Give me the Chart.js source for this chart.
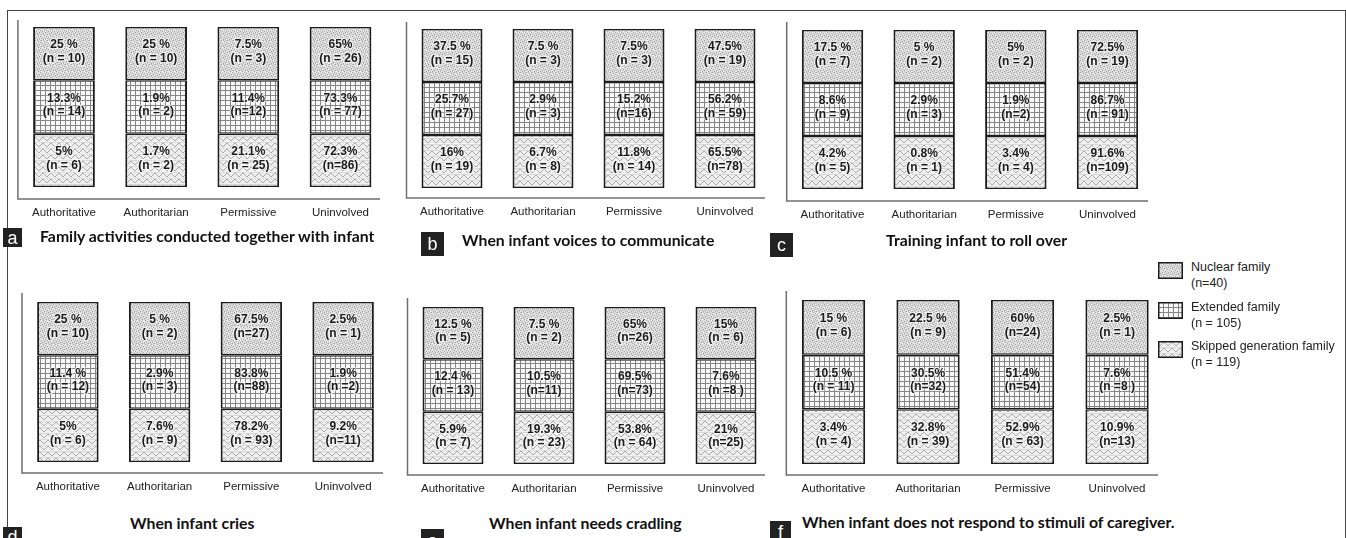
<!DOCTYPE html>
<html lang="en">
<head>
<meta charset="UTF-8">
<title>Parenting style by family type</title>
<script src="https://cdn.jsdelivr.net/npm/chart.js"></script>
<style>
  html, body { margin: 0; padding: 0; background: #fff; overflow: hidden; }
  #fig { position: relative; width: 1346px; height: 538px; overflow: hidden; font-family: Arial, "Liberation Sans", sans-serif; }
  #frame { position: absolute; left: 7px; top: 10px; width: 1337px; height: 600px; border: 1.5px solid #444; border-bottom: none; }
  canvas.panel { position: absolute; }
  .letter { position: absolute; background: #222; color: #fff; font-size: 18px; line-height: 1; display: flex; align-items: center; justify-content: center; }
  .title { position: absolute; font-family: Lato, "Open Sans", sans-serif; font-weight: 700; font-size: 15.8px; color: #111; white-space: nowrap; line-height: 1; }
  .leg { position: absolute; left: 1158px; font-size: 12.5px; color: #222; line-height: 15.5px; }
  .leg canvas { position: absolute; left: 0; top: 0; }
  .leg div { position: absolute; left: 33px; top: -2px; white-space: nowrap; }
</style>
</head>
<body>
<div id="fig">
  <div id="frame"></div>
  <canvas class="panel" id="chartA"></canvas>
  <canvas class="panel" id="chartB"></canvas>
  <canvas class="panel" id="chartC"></canvas>
  <canvas class="panel" id="chartD"></canvas>
  <canvas class="panel" id="chartE"></canvas>
  <canvas class="panel" id="chartF"></canvas>
</div>
<script>
// ---- data ----
const categories = ['Authoritative', 'Authoritarian', 'Permissive', 'Uninvolved'];
const familyTypes = ['Nuclear family', 'Extended family', 'Skipped generation family'];
const familyTotals = ['(n=40)', '(n = 105)', '(n = 119)'];
// every block in the figure is drawn with the same height
const blockHeight = [1, 1, 1, 1];

const panelLetters = ['a', 'b', 'c', 'd', 'e', 'f'];
const panelTitles = [
  'Family activities conducted together with infant',
  'When infant voices to communicate',
  'Training infant to roll over',
  'When infant cries',
  'When infant needs cradling',
  'When infant does not respond to stimuli of caregiver.'
];

// rows: nuclear, extended, skipped generation
const pctA = [['25 %', '25 %', '7.5%', '65%'], ['13.3%', '1.9%', '11.4%', '73.3%'], ['5%', '1.7%', '21.1%', '72.3%']];
const nA = [['(n = 10)', '(n = 10)', '(n = 3)', '(n = 26)'], ['(n = 14)', '(n = 2)', '(n=12)', '(n = 77)'], ['(n = 6)', '(n = 2)', '(n = 25)', '(n=86)']];
const pctB = [['37.5 %', '7.5 %', '7.5%', '47.5%'], ['25.7%', '2.9%', '15.2%', '56.2%'], ['16%', '6.7%', '11.8%', '65.5%']];
const nB = [['(n = 15)', '(n = 3)', '(n = 3)', '(n = 19)'], ['(n = 27)', '(n = 3)', '(n=16)', '(n = 59)'], ['(n = 19)', '(n = 8)', '(n = 14)', '(n=78)']];
const pctC = [['17.5 %', '5 %', '5%', '72.5%'], ['8.6%', '2.9%', '1.9%', '86.7%'], ['4.2%', '0.8%', '3.4%', '91.6%']];
const nC = [['(n = 7)', '(n = 2)', '(n = 2)', '(n = 19)'], ['(n = 9)', '(n = 3)', '(n=2)', '(n = 91)'], ['(n = 5)', '(n = 1)', '(n = 4)', '(n=109)']];
const pctD = [['25 %', '5 %', '67.5%', '2.5%'], ['11.4 %', '2.9%', '83.8%', '1.9%'], ['5%', '7.6%', '78.2%', '9.2%']];
const nD = [['(n = 10)', '(n = 2)', '(n=27)', '(n = 1)'], ['(n = 12)', '(n = 3)', '(n=88)', '(n =2)'], ['(n = 6)', '(n = 9)', '(n = 93)', '(n=11)']];
const pctE = [['12.5 %', '7.5 %', '65%', '15%'], ['12.4 %', '10.5%', '69.5%', '7.6%'], ['5.9%', '19.3%', '53.8%', '21%']];
const nE = [['(n = 5)', '(n = 2)', '(n=26)', '(n = 6)'], ['(n = 13)', '(n=11)', '(n=73)', '(n =8 )'], ['(n = 7)', '(n = 23)', '(n = 64)', '(n=25)']];
const pctF = [['15 %', '22.5 %', '60%', '2.5%'], ['10.5 %', '30.5%', '51.4%', '7.6%'], ['3.4%', '32.8%', '52.9%', '10.9%']];
const nF = [['(n = 6)', '(n = 9)', '(n=24)', '(n = 1)'], ['(n = 11)', '(n=32)', '(n=54)', '(n =8 )'], ['(n = 4)', '(n = 39)', '(n = 63)', '(n=13)']];

// ---- fill patterns ----
function makeTile(w, h, draw) {
  const c = document.createElement('canvas');
  c.width = w; c.height = h;
  draw(c.getContext('2d'));
  return c;
}
const dotTile = makeTile(6, 6, g => {
  g.fillStyle = '#dedede'; g.fillRect(0, 0, 6, 6);
  g.fillStyle = '#a2a2a2';
  [[0, 0], [3, 1], [1, 3], [4, 4], [2, 5], [5, 2]].forEach(p => g.fillRect(p[0], p[1], 1, 1));
  g.fillStyle = '#c2c2c2';
  [[2, 0], [5, 0], [0, 4], [3, 3], [4, 5]].forEach(p => g.fillRect(p[0], p[1], 1, 1));
  g.fillStyle = '#f0f0f0';
  [[1, 1], [4, 2], [2, 3], [5, 5]].forEach(p => g.fillRect(p[0], p[1], 1, 1));
});
const gridTile = makeTile(5, 5, g => {
  g.fillStyle = '#f7f7f7'; g.fillRect(0, 0, 5, 5);
  g.fillStyle = '#858585';
  g.fillRect(0, 0, 5, 1); g.fillRect(0, 0, 1, 5);
});
const waveTile = makeTile(8, 6, g => {
  g.fillStyle = '#f0f0f0'; g.fillRect(0, 0, 8, 6);
  g.strokeStyle = '#959595'; g.lineWidth = 1;
  g.beginPath();
  for (let x = 0; x <= 8; x += 0.5) {
    const y = 3 + 1.6 * Math.sin((x / 8) * Math.PI * 2);
    if (x === 0) g.moveTo(x, y); else g.lineTo(x, y);
  }
  g.stroke();
  g.beginPath();
  g.moveTo(0, 0.2); g.lineTo(8, 0.2);
  g.strokeStyle = 'rgba(150,150,150,0.35)'; g.stroke();
});
const probe = document.createElement('canvas').getContext('2d');
const fills = [probe.createPattern(dotTile, 'repeat'), probe.createPattern(gridTile, 'repeat'), probe.createPattern(waveTile, 'repeat')];

// ---- panel layout (page px) ----
const panels = [
  { id: 'chartA', pct: pctA, n: nA, l: 17.9, r: 386.6, axisR: 380, t: 20, b: 199, barTop: 27, barBottom: 187 },
  { id: 'chartB', pct: pctB, n: nB, l: 406.5, r: 770.5, axisR: 765, t: 22, b: 198, barTop: 29, barBottom: 188 },
  { id: 'chartC', pct: pctC, n: nC, l: 786.7, r: 1153.3, axisR: 1148, t: 22, b: 201, barTop: 30, barBottom: 189 },
  { id: 'chartD', pct: pctD, n: nD, l: 22, r: 389, axisR: 383, t: 293, b: 473, barTop: 302, barBottom: 462 },
  { id: 'chartE', pct: pctE, n: nE, l: 407.5, r: 771.5, axisR: 765, t: 298, b: 475, barTop: 307, barBottom: 464 },
  { id: 'chartF', pct: pctF, n: nF, l: 786.3, r: 1164.3, axisR: 1158, t: 291, b: 475, barTop: 300, barBottom: 464 }
];

// axis lines and the text inside each block
const panelDecor = {
  id: 'panelDecor',
  afterDatasetsDraw(chart, args, opts) {
    const ctx = chart.ctx, area = chart.chartArea;
    ctx.save();
    ctx.strokeStyle = '#6f6f6f';
    ctx.lineWidth = 1.5;
    ctx.beginPath();
    ctx.moveTo(area.left, area.top);
    ctx.lineTo(area.left, area.bottom);
    ctx.lineTo(area.left + opts.axisLen, area.bottom);
    ctx.stroke();

    ctx.font = 'bold 12px Arial, "Liberation Sans", sans-serif';
    ctx.textAlign = 'center';
    ctx.textBaseline = 'middle';
    chart.data.datasets.forEach((ds, di) => {
      const meta = chart.getDatasetMeta(di);
      meta.data.forEach((el, i) => {
        const cy = (el.y + el.base) / 2;
        const lines = [ds.pctLabels[i], ds.nLabels[i]];
        lines.forEach((txt, k) => {
          const y = cy + (k === 0 ? -8.5 : 5);
          ctx.lineWidth = 2.5;
          ctx.strokeStyle = 'rgba(255,255,255,0.55)';
          ctx.strokeText(txt, el.x, y);
          ctx.fillStyle = '#1b1b1b';
          ctx.fillText(txt, el.x, y);
        });
      });
    });
    ctx.restore();
  }
};

const PAD = { l: 12, r: 12, t: 10, b: 30 };

function buildPanel(p) {
  const cv = document.getElementById(p.id);
  const x0 = Math.floor(p.l) - PAD.l, x1 = Math.ceil(p.r) + PAD.r;
  const y0 = p.t - PAD.t, y1 = p.b + PAD.b;
  cv.width = x1 - x0; cv.height = y1 - y0;
  cv.style.left = x0 + 'px'; cv.style.top = y0 + 'px';
  cv.style.width = (x1 - x0) + 'px'; cv.style.height = (y1 - y0) + 'px';

  const unit = (p.barBottom - p.barTop) / 3;
  const yMin = -(p.b - p.barBottom) / unit;
  const yMax = 3 + (p.barTop - p.t) / unit;

  // stacked from the bottom: skipped, extended, nuclear
  const order = [2, 1, 0];
  const datasets = order.map(k => ({
    label: familyTypes[k],
    data: blockHeight,
    pctLabels: p.pct[k],
    nLabels: p.n[k],
    backgroundColor: fills[k],
    borderColor: '#1c1c1c',
    borderWidth: { top: 1.5, bottom: 1.5, left: 2, right: 2 },
    borderSkipped: false,
    barPercentage: 0.67,
    categoryPercentage: 1
  }));

  return new Chart(cv, {
    type: 'bar',
    data: { labels: categories, datasets },
    options: {
      responsive: false,
      animation: false,
      devicePixelRatio: 1,
      events: [],
      layout: { padding: { left: p.l - x0, right: x1 - p.r, top: PAD.t, bottom: 2 } },
      plugins: {
        legend: { display: false },
        tooltip: { enabled: false },
        panelDecor: { axisLen: p.axisR - p.l }
      },
      scales: {
        x: {
          stacked: true,
          grid: { display: false, drawTicks: false },
          border: { display: false },
          ticks: { padding: 7, color: '#222', font: { family: 'Arial, "Liberation Sans", sans-serif', size: 11.5 } },
          afterFit: s => { s.height = 28; }
        },
        y: { stacked: true, display: false, min: yMin, max: yMax }
      }
    },
    plugins: [panelDecor]
  });
}

panels.forEach(buildPanel);

// ---- titles, panel letters, legend ----
const fig = document.getElementById('fig');
const letterBoxes = [
  { x: 3, y: 228, w: 19, h: 19 }, { x: 421, y: 232, w: 23, h: 24 }, { x: 770, y: 233, w: 23, h: 24 },
  { x: 3, y: 527, w: 19, h: 19 }, { x: 421, y: 529, w: 23, h: 24 }, { x: 770, y: 521, w: 21, h: 22 }
];
const titlePos = [
  { x: 40, y: 228 }, { x: 462, y: 232 }, { x: 886, y: 232 },
  { x: 130, y: 515 }, { x: 489, y: 515 }, { x: 802, y: 514 }
];
panelLetters.forEach((ch, i) => {
  const b = letterBoxes[i];
  const d = document.createElement('div');
  d.className = 'letter';
  d.textContent = ch;
  Object.assign(d.style, { left: b.x + 'px', top: b.y + 'px', width: b.w + 'px', height: b.h + 'px' });
  fig.appendChild(d);
  const t = document.createElement('div');
  t.className = 'title';
  t.textContent = panelTitles[i];
  Object.assign(t.style, { left: titlePos[i].x + 'px', top: titlePos[i].y + 'px' });
  fig.appendChild(t);
});

const legendTops = [262, 302, 341];
familyTypes.forEach((name, k) => {
  const item = document.createElement('div');
  item.className = 'leg';
  item.style.top = legendTops[k] + 'px';
  const sw = document.createElement('canvas');
  sw.width = 25; sw.height = 17;
  const g = sw.getContext('2d');
  g.fillStyle = fills[k]; g.fillRect(0, 0, 25, 17);
  g.strokeStyle = '#1c1c1c'; g.lineWidth = 1.5; g.strokeRect(0.75, 0.75, 23.5, 15.5);
  item.appendChild(sw);
  const txt = document.createElement('div');
  txt.innerHTML = name + '<br>' + familyTotals[k];
  item.appendChild(txt);
  fig.appendChild(item);
});
</script>
</body>
</html>
